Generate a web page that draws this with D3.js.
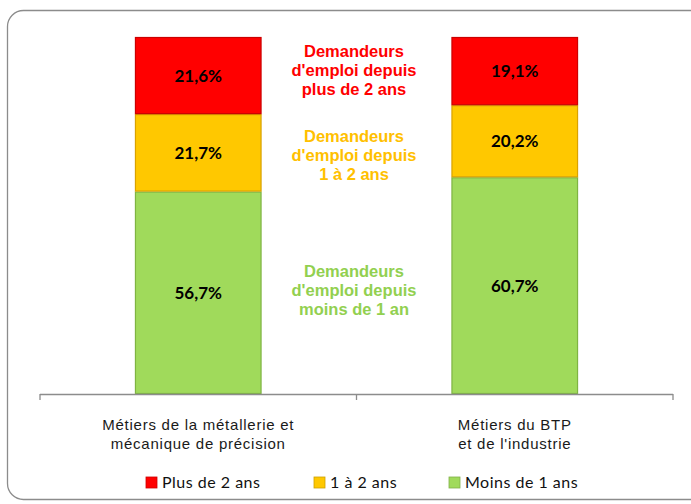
<!DOCTYPE html>
<html>
<head>
  <meta charset="utf-8">
  <script src="https://d3js.org/d3.v7.min.js"></script>
  <style>
    body { margin: 0; background: #fff; }
    .valueLabel { font-family: Lato, "Open Sans", sans-serif; font-weight: 700; font-size: 17px; }
    .note { font-family: "Liberation Sans", Arial, sans-serif; font-weight: 700; font-size: 16.5px; }
    .cat { font-family: "Liberation Sans", Arial, sans-serif; font-size: 15px; fill: #1a1a1a; letter-spacing: 0.75px; }
    .legend text { font-family: Lato, "Open Sans", sans-serif; font-size: 16px; fill: #111; letter-spacing: 0.5px; }
  </style>
</head>
<body>
<svg id="chart" width="691" height="504"></svg>
<script>

// data
const categories = [
  ["Métiers de la métallerie et", "mécanique de précision"],
  ["Métiers du BTP", "et de l'industrie"]
];
const seriesNames = ["Moins de 1 ans", "1 à 2 ans", "Plus de 2 ans"];
const moinsDe1 = [56.7, 60.7];
const unADeux = [21.7, 20.2];
const plusDe2 = [21.6, 19.1];
const colors = ["#a0da5b", "#ffc800", "#ff0000"];
const noteColors = ["#92d050", "#ffc000", "#ff0000"];
const notes = [
  ["Demandeurs", "d'emploi depuis", "moins de 1 an"],
  ["Demandeurs", "d'emploi depuis", "1 à 2 ans"],
  ["Demandeurs", "d'emploi depuis", "plus de 2 ans"]
];

const svg = d3.select("#chart");

// outer rounded frame (runs off the right edge like the original)
svg.append("rect").attr("x", 7.5).attr("y", 10.5)
   .attr("width", 700).attr("height", 489)
   .attr("rx", 16).attr("ry", 16)
   .attr("fill", "none").attr("stroke", "#8c8c8c").attr("stroke-width", 1.3);

const axisY = 394;
const xScale = d3.scaleBand().domain([0, 1]).range([40, 673])
                 .paddingInner(0.6).paddingOuter(0.3);
const yScale = d3.scaleLinear().domain([0, 100]).range([axisY, 37]);

const table = categories.map((c, i) => ({ i: i, vals: [moinsDe1[i], unADeux[i], plusDe2[i]] }));
const stack = d3.stack().keys([0, 1, 2]).value((d, k) => d.vals[k]);
const layers = stack(table);

const darker = ["#7fb442", "#d9a200", "#cc0000"];

const groups = svg.selectAll("g.layer").data(layers).join("g").attr("class", "layer");
groups.selectAll("rect").data((L, k) => L.map(s => ({ s: s, k: k })))
  .join("rect")
  .attr("x", d => xScale(d.s.data.i) + 0.5)
  .attr("y", d => yScale(d.s[1]) + 0.5)
  .attr("width", xScale.bandwidth() - 1)
  .attr("height", d => yScale(d.s[0]) - yScale(d.s[1]) - 1)
  .attr("fill", d => colors[d.k])
  .attr("stroke", d => darker[d.k])
  .attr("stroke-width", 1.2);

groups.selectAll("text").data((L, k) => L.map(s => ({ s: s, k: k })))
  .join("text").attr("class", "valueLabel")
  .attr("x", d => xScale(d.s.data.i) + xScale.bandwidth() / 2)
  .attr("y", d => (yScale(d.s[0]) + yScale(d.s[1])) / 2 + 6)
  .attr("text-anchor", "middle")
  .text(d => d3.format(".1f")(d.s.data.vals[d.k]).replace(".", ",") + "%");

// category axis
const axis = svg.append("g").attr("stroke", "#8c8c8c").attr("stroke-width", 1.3);
axis.append("line").attr("x1", 40).attr("x2", 673).attr("y1", axisY + 0.5).attr("y2", axisY + 0.5);
[40, 356.5, 673].forEach(x => {
  axis.append("line").attr("x1", x).attr("x2", x).attr("y1", axisY).attr("y2", axisY + 6);
});

categories.forEach((lines, i) => {
  const t = svg.append("text").attr("class", "cat").attr("text-anchor", "middle");
  lines.forEach((l, j) => {
    t.append("tspan").attr("x", xScale(i) + xScale.bandwidth() / 2)
     .attr("y", 430 + j * 19).text(l);
  });
});

// notes between the bars
const noteY = [277, 142, 57];
notes.forEach((lines, k) => {
  const t = svg.append("text").attr("class", "note").attr("text-anchor", "middle")
               .attr("fill", noteColors[k]);
  lines.forEach((l, j) => {
    t.append("tspan").attr("x", 354).attr("y", noteY[k] + j * 19).text(l);
  });
});

// legend
const legendItems = [
  { name: seriesNames[2], color: colors[2], x: 146 },
  { name: seriesNames[1], color: colors[1], x: 314 },
  { name: seriesNames[0], color: colors[0], x: 449 }
];
const legend = svg.append("g").attr("class", "legend");
legendItems.forEach(d => {
  legend.append("rect").attr("x", d.x).attr("y", 477).attr("width", 11).attr("height", 11)
        .attr("fill", d.color).attr("stroke", d3.color(d.color).darker(0.6)).attr("stroke-width", 0.8);
  legend.append("text").attr("x", d.x + 16).attr("y", 488).text(d.name);
});

</script>
</body>
</html>
